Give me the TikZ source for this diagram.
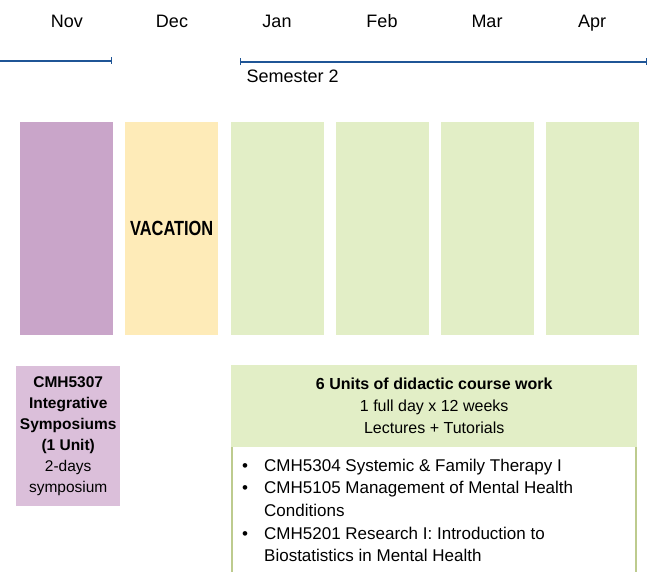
\documentclass[tikz,border=0pt]{standalone}
\usepackage{fontspec}
\setmainfont{Liberation Sans}
\usepackage{graphicx}
\usepackage{array}
\usetikzlibrary{positioning, calc, arrows.meta}

\definecolor{symcol}{HTML}{C9A5C9}
\definecolor{symlight}{HTML}{DBBFDA}
\definecolor{vaccol}{HTML}{FEEBB8}
\definecolor{semcol}{HTML}{E2EEC6}
\definecolor{semedge}{HTML}{BDCB8E}
\definecolor{termline}{HTML}{1F5596}

\tikzset{
  month/.style={font=\fontsize{18}{20}\selectfont, anchor=base},
  bar/.style={minimum width=93pt, minimum height=213pt, inner sep=0pt, anchor=north west},
  termrule/.style={termline, line width=1.3pt},
}

\begin{document}
\begin{tikzpicture}[x=1pt, y=-1pt]
\useasboundingbox (0,0) rectangle (648,572);

% month heads
\node[month] (nov) at (67, 27.5) {Nov};
\node[month] (dec) at (172, 27.5) {Dec};
\node[month] (jan) at (277, 27.5) {Jan};
\node[month] (feb) at (382, 27.5) {Feb};
\node[month] (mar) at (487, 27.5) {Mar};
\node[month] (apr) at (592, 27.5) {Apr};

% semester rules
\coordinate (s1a) at (0, 61);
\coordinate (s1b) at (112, 61);
\coordinate (s2a) at (240, 62);
\coordinate (s2b) at (647, 62);
\draw[termrule, -{Bar[width=7pt]}] (s1a) -- (s1b);
\draw[termrule, {Bar[width=7pt]}-{Bar[width=7pt]}] (s2a) -- (s2b);
\node[month, anchor=base west, inner sep=0pt] (sem2) at (246.5, 83) {Semester 2};

% month bars
\node[bar, fill=symcol] (bnov) at (20, 122) {};
\node[bar, fill=vaccol] (bdec) at (125, 122) {};
\node[bar, fill=semcol] (bjan) at (231, 122) {};
\node[bar, fill=semcol] (bfeb) at (336, 122) {};
\node[bar, fill=semcol] (bmar) at (441, 122) {};
\node[bar, fill=semcol] (bapr) at (546, 122) {};
\node[font=\bfseries\fontsize{20.5}{22}\selectfont] (vac) at (bdec.center)
  {\scalebox{0.8}[1]{VACATION}};

% symposium box
\node[fill=symlight, minimum width=104pt, minimum height=140pt, inner sep=0pt,
  anchor=north west, align=center, font=\fontsize{15.5}{21}\selectfont]
  (symp) at (16, 366)
  {\textbf{CMH5307}\\\textbf{Integrative}\\\textbf{Symposiums}\\\textbf{(1 Unit)}\\2-days\\symposium};

% course work box
\node[fill=semcol, minimum width=406pt, minimum height=82pt, inner sep=0pt,
  anchor=north west, align=center, font=\fontsize{16}{22}\selectfont]
  (cwhead) at (231, 365)
  {\textbf{6 Units of didactic course work}\\1 full day x 12 weeks\\Lectures + Tutorials};
\coordinate (cwbl) at (232, 572);
\coordinate (cwbr) at (636, 572);
\draw[semedge, line width=2pt] (cwhead.south west -| cwbl) -- (cwbl);
\draw[semedge, line width=2pt] (cwhead.south east -| cwbr) -- (cwbr);
\node[anchor=north west, inner sep=0pt, font=\fontsize{17}{22.7}\selectfont]
  (cwlist) at (242, 455)
  {\begin{tabular}{@{}p{22pt}@{}>{\raggedright\arraybackslash}p{345pt}@{}}
   \textbullet & CMH5304 Systemic \& Family Therapy I\\
   \textbullet & CMH5105 Management of Mental Health Conditions\\
   \textbullet & CMH5201 Research I: Introduction to Biostatistics in Mental Health
   \end{tabular}};
\end{tikzpicture}
\end{document}
